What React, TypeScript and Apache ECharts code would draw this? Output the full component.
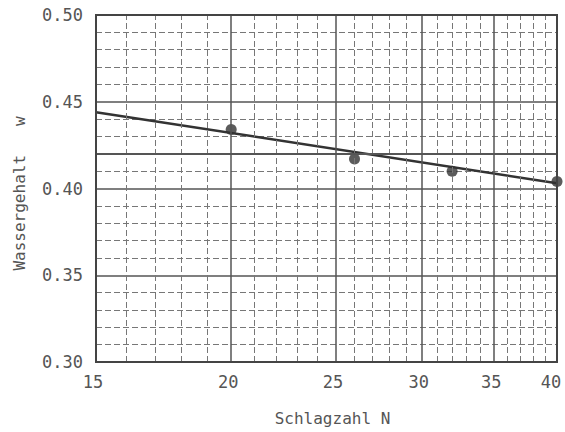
import React, { useEffect, useRef } from "react";
import * as echarts from "echarts";

const majorBlows = [15, 20, 25, 30, 35, 40];
const minorBlows = [16, 17, 18, 19, 21, 22, 23, 24, 26, 27, 28, 29, 31, 32, 33, 34, 36, 37, 38, 39];
const blows = [20, 26, 32, 40];
const waterContent = [0.434, 0.417, 0.41, 0.404];
const fitBlows = [15, 40];
const fitWater = [0.444, 0.403];
const liquidLimit = 0.422;

const FONT = "DejaVu Sans Mono";
const TXT = "#555";

export default function App() {
  const ref = useRef<HTMLDivElement>(null);
  useEffect(() => {
    const chart = echarts.init(ref.current!, null, { renderer: "svg" });
    const option: any = {
      animation: false,
      backgroundColor: "#fff",
      grid: {
        left: 96,
        right: 8,
        top: 15,
        bottom: 70,
        show: true,
        borderColor: "#444",
        borderWidth: 2,
        backgroundColor: "transparent",
        z: 10,
      },
      xAxis: {
        type: "log",
        logBase: 10,
        min: 15,
        max: 40,
        axisLine: { show: false },
        axisTick: { show: false },
        axisLabel: { show: false },
        splitLine: { show: false },
        name: "Schlagzahl N",
        nameLocation: "middle",
        nameGap: 48,
        nameTextStyle: { color: TXT, fontFamily: FONT, fontSize: 16, padding: [0, 0, 0, 12] },
      },
      yAxis: {
        type: "value",
        min: 0.3,
        max: 0.5,
        interval: 0.05,
        axisLine: { show: false },
        axisTick: { show: false },
        axisLabel: {
          color: TXT,
          fontFamily: FONT,
          fontSize: 17,
          margin: 13,
          formatter: (v: number) => v.toFixed(2),
        },
        splitLine: { show: true, lineStyle: { color: "#555", width: 1.5 } },
        minorTick: { show: false, splitNumber: 5 },
        minorSplitLine: { show: true, lineStyle: { color: "#777", width: 1, type: [6, 3] } },
        name: "Wassergehalt   w",
        nameLocation: "middle",
        nameGap: 69,
        nameTextStyle: { color: TXT, fontFamily: FONT, fontSize: 16, padding: [0, 10, 0, 0] },
      },
      series: [
        {
          type: "line",
          data: [],
          z: 1,
          silent: true,
          markLine: {
            silent: true,
            symbol: ["none", "none"],
            animation: false,
            data: [
              ...minorBlows.map((n) => ({
                xAxis: n,
                label: { show: false },
                lineStyle: { color: "#777", width: 1, type: [6, 3] },
              })),
              ...majorBlows.map((n) => ({
                xAxis: n,
                label: {
                  show: true,
                  position: "start",
                  formatter: String(n),
                  color: TXT,
                  fontFamily: FONT,
                  fontSize: 17,
                  distance: 11,
                  offset: [n === 40 ? -6 : -3, 0],
                },
                lineStyle: { color: "#555", width: 1.5, type: "solid" },
              })),
              {
                yAxis: liquidLimit,
                label: { show: false },
                lineStyle: { color: "#555", width: 2, type: "solid" },
              },
            ],
          },
        },
        {
          type: "line",
          data: fitBlows.map((n, i) => [n, fitWater[i]]),
          symbol: "none",
          z: 3,
          lineStyle: { color: "#333", width: 2.5 },
        },
        {
          type: "scatter",
          data: blows.map((n, i) => [n, waterContent[i]]),
          symbol: "circle",
          symbolSize: 11,
          z: 4,
          itemStyle: { color: "#333" },
        },
      ],
    };
    chart.setOption(option);
    return () => chart.dispose();
  }, []);
  return (
    <div
      ref={ref}
      style={{ position: "absolute", left: 0, top: 0, width: 565, height: 432 }}
    />
  );
}
